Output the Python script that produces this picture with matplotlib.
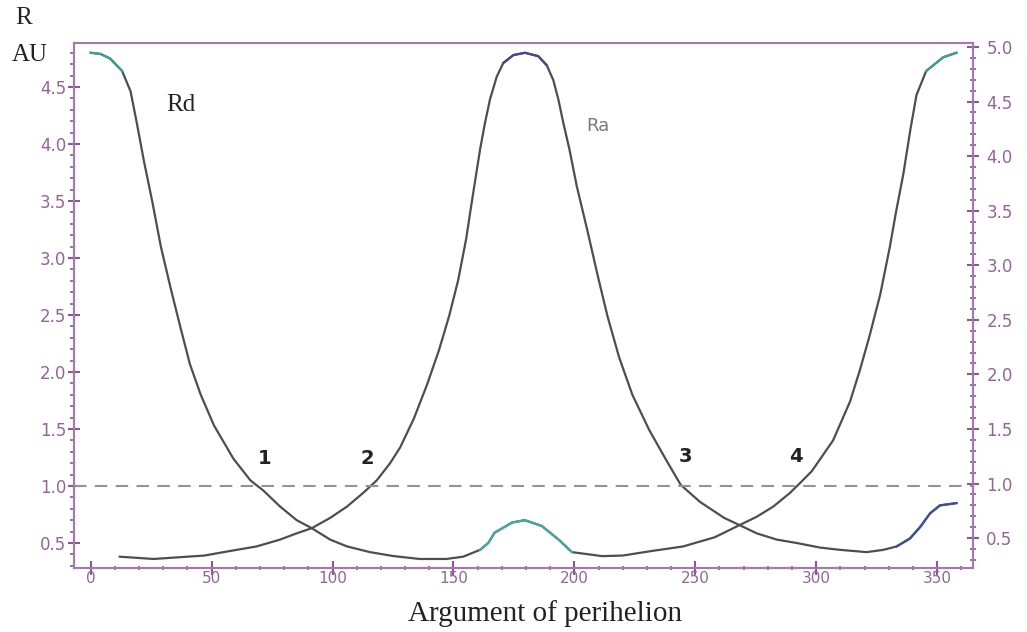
import matplotlib.pyplot as plt
import numpy as np
from matplotlib.ticker import MultipleLocator, FormatStrFormatter

# Rd curve (descending node distance)
omega_rd = [0, 4, 8, 13, 16.5, 19, 22, 25.5, 29, 33, 37, 41, 45.5, 51, 59, 66,
            71.4, 78.3, 85.2, 91.4, 99, 106, 115.5, 125, 136, 147, 154, 161,
            164.4, 167, 174.3, 179.5, 186.5, 193.5, 199, 211.5, 220, 232, 245,
            258, 268.6, 275.4, 282.3, 289.2, 294, 298.2, 307, 314, 318, 322,
            326.5, 330.5, 333, 336, 339, 341.5, 345.5, 352.5, 358]
rd = [4.80, 4.79, 4.75, 4.64, 4.46, 4.19, 3.85, 3.49, 3.10, 2.74, 2.40, 2.07,
      1.80, 1.53, 1.24, 1.05, 0.96, 0.82, 0.70, 0.63, 0.53, 0.47, 0.42, 0.386,
      0.36, 0.36, 0.38, 0.44, 0.50, 0.59, 0.68, 0.70, 0.65, 0.53, 0.42, 0.385,
      0.39, 0.43, 0.47, 0.55, 0.66, 0.73, 0.82, 0.94, 1.04, 1.13, 1.40, 1.74,
      2.01, 2.31, 2.68, 3.10, 3.40, 3.73, 4.13, 4.43, 4.64, 4.76, 4.80]

# Ra curve (ascending node distance)
omega_ra = [12, 26, 47, 57.6, 68.6, 78.3, 85.2, 91.4, 99, 106, 112.7, 118.3,
            123.8, 128, 133.6, 139.1, 144, 148.2, 151.9, 155.2, 157.8, 161, 163,
            165.1, 167.9, 170.6, 174.8, 179.6, 185.1, 188.6, 191.3, 193.4, 195.5,
            198, 201, 205.3, 209.5, 213.7, 218.5, 224, 231, 238.2, 244,
            252, 262, 269, 275.4, 283.7, 292, 301.6, 309.9, 320.9, 327.8, 333.3,
            338.8, 343, 347.1, 351.2, 358]
ra = [0.38, 0.36, 0.39, 0.43, 0.47, 0.53, 0.585, 0.63, 0.72, 0.82, 0.94, 1.05,
      1.20, 1.34, 1.59, 1.89, 2.19, 2.49, 2.80, 3.16, 3.52, 3.95, 4.18, 4.39,
      4.59, 4.71, 4.78, 4.80, 4.77, 4.69, 4.56, 4.39, 4.18, 3.95, 3.63,
      3.25, 2.86, 2.49, 2.13, 1.80, 1.49, 1.22, 1.01, 0.86, 0.72, 0.65, 0.585,
      0.53, 0.50, 0.46, 0.44, 0.42, 0.44, 0.47, 0.54, 0.64, 0.76, 0.83, 0.85]

x_ticks = [0, 50, 100, 150, 200, 250, 300, 350]
left_ticks = [0.5, 1.0, 1.5, 2.0, 2.5, 3.0, 3.5, 4.0, 4.5]
right_ticks = [0.5, 1.0, 1.5, 2.0, 2.5, 3.0, 3.5, 4.0, 4.5, 5.0]

point_labels = ['1', '2', '3', '4']
point_omega = [72, 114.5, 246, 291.5]
point_r = [1.24, 1.24, 1.26, 1.26]

spine_col = '#a47aae'
tick_col = '#8d5595'
lab_col = '#93649a'

fig = plt.figure(figsize=(10.27, 6.32), dpi=100)
ax = fig.add_axes([0.0721, 0.1013, 0.8754, 0.8307])

o_rd = np.array(omega_rd)
r_rd = np.array(rd)
o_ra = np.array(omega_ra)
r_ra = np.array(ra)

ax.plot(o_rd, r_rd, color='#4e4e4e', lw=1.6)
ax.plot(o_ra, r_ra, color='#4e4e4e', lw=1.6)
# coloured bits like in the original
m = o_rd <= 13
ax.plot(o_rd[m], r_rd[m], color='#3f9f98', lw=1.6)
m = o_rd >= 345.5
ax.plot(o_rd[m], r_rd[m], color='#3f9f98', lw=1.6)
m = (o_rd >= 161) & (o_rd <= 199)
ax.plot(o_rd[m], r_rd[m], color='#45aaa2', lw=1.6)
m = o_ra >= 333.3
ax.plot(o_ra[m], r_ra[m], color='#3c4f9c', lw=1.6)
m = (o_ra >= 170.6) & (o_ra <= 188.6)
ax.plot(o_ra[m], r_ra[m], color='#4a4590', lw=1.6)

ax.axhline(1.0, color='#939393', lw=1.5, linestyle=(0, (6, 4)))

ax.set_xlim(-6.9, 364.9)
ax.set_ylim(0.281, 4.886)

ax.set_xticks(x_ticks)
ax.xaxis.set_minor_locator(MultipleLocator(10))
ax.set_yticks(left_ticks)
ax.yaxis.set_minor_locator(MultipleLocator(0.1))
ax.yaxis.set_major_formatter(FormatStrFormatter('%.1f'))

for s in ax.spines.values():
    s.set_color(spine_col)
    s.set_linewidth(1.5)

ax.tick_params(axis='y', which='major', direction='inout', length=9, width=1.5,
               color=tick_col, labelcolor=lab_col, labelsize=12, pad=1)
ax.tick_params(axis='y', which='minor', direction='out', length=3, width=1.2,
               color=tick_col)
ax.tick_params(axis='x', which='major', direction='inout', length=10, width=1.5,
               color=tick_col, labelcolor=lab_col, labelsize=11, pad=-3)
ax.tick_params(axis='x', which='minor', direction='inout', length=3, width=1.2,
               color=tick_col)

ax2 = ax.twinx()
ax2.set_ylim(0.226, 5.037)
ax2.set_yticks(right_ticks)
ax2.yaxis.set_minor_locator(MultipleLocator(0.1))
ax2.yaxis.set_major_formatter(FormatStrFormatter('%.1f'))
for s in ax2.spines.values():
    s.set_color(spine_col)
    s.set_linewidth(1.5)
ax2.tick_params(axis='y', which='major', direction='inout', length=9, width=1.5,
                color=tick_col, labelcolor=lab_col, labelsize=12, pad=5)
ax2.tick_params(axis='y', which='minor', direction='inout', length=4, width=1.2,
                color=tick_col)

for lab, xo, yr in zip(point_labels, point_omega, point_r):
    ax.text(xo, yr, lab, fontsize=14, fontweight='bold', color='#222222',
            ha='center', va='center', family='DejaVu Sans')

ax.text(37.3, 4.34, 'Rd', fontsize=18, color='#222222', ha='center',
        va='center', family='Liberation Serif')
ax.text(209.8, 4.16, 'Ra', fontsize=13, color='#7a7a7a', ha='center',
        va='center', family='DejaVu Sans')

fig.text(24 / 1027, 1 - 18 / 632, 'R', fontsize=18, color='#222222',
         ha='center', va='center', family='Liberation Serif')
fig.text(30 / 1027, 1 - 55 / 632, 'AU', fontsize=18, color='#222222',
         ha='center', va='center', family='Liberation Serif')
fig.text(545 / 1027, 1 - 614 / 632, 'Argument of perihelion', fontsize=21,
         color='#222222', ha='center', va='center', family='Liberation Serif')

fig.savefig('out.png', dpi=100)
